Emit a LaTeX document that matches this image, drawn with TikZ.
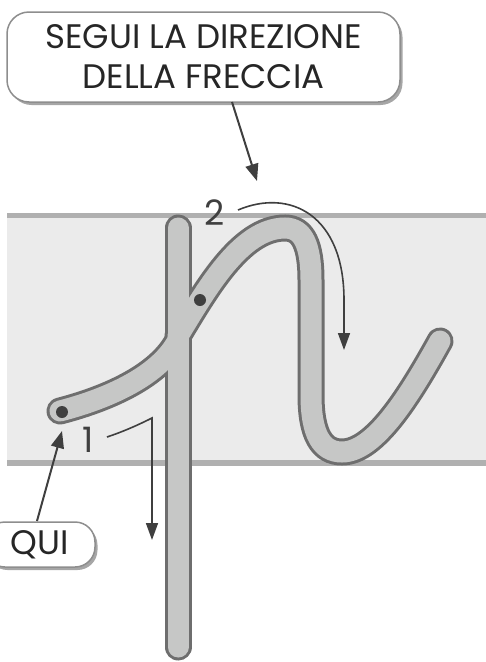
\documentclass[tikz,border=0pt]{standalone}
\usepackage{fontspec}
\setmainfont{Poppins}
\usetikzlibrary{arrows.meta, shadows}
\definecolor{bandfill}{HTML}{EBEBEB}
\definecolor{bandline}{HTML}{B0B0B0}
\definecolor{strokeline}{HTML}{6E6E6E}
\definecolor{strokefill}{HTML}{C6C7C6}
\definecolor{ink}{HTML}{3F3F3F}
\definecolor{boxline}{HTML}{8E8E8E}
\tikzstyle{callout} = [
    rectangle,
    rounded corners=22pt,
    draw=boxline,
    line width=1.5pt,
    fill=white,
    drop shadow={shadow xshift=2.5pt, shadow yshift=-3pt, opacity=.35, fill=black},
    align=center,
    text=black!85,
    font=\fontsize{34}{40}\selectfont
]
\tikzstyle{number} = [font=\fontsize{35}{35}\selectfont, text=ink, inner sep=0pt]
\tikzstyle{startdot} = [circle, fill=ink, minimum size=12pt, inner sep=0pt]
\tikzstyle{outline} = [draw=strokeline, line width=27pt, line cap=round]
\tikzstyle{inside} = [draw=strokefill, line width=21pt, line cap=round]
\tikzstyle{arrow} = [ink, line width=1.6pt, -{Triangle[length=17pt,width=12pt]}]
\tikzstyle{pointer} = [ink, line width=2pt, -{Triangle[length=17pt,width=13pt]}]
% letter strokes
\def\stem{(178,228) -- (178,647)}
\def\strokeone{(60,411) .. controls (110,398) and (160,375) .. (178,340)}
\def\stroketwo{(178,336) .. controls (205,292) and (240,228) .. (285,228)
    .. controls (303,228) and (311,245) .. (311,280) -- (311,395)
    .. controls (311,435) and (322,452) .. (342,452)
    .. controls (375,452) and (410,395) .. (440,341)}
\begin{document}
\begin{tikzpicture}[x=1pt, y=-1pt]
\useasboundingbox (0,0) rectangle (486,662);

% band
\fill[bandfill] (7,215) rectangle (486,463);
\fill[bandline] (7,213) rectangle (486,218);
\fill[bandline] (7,460) rectangle (486,466);

% letter
\draw[outline] \stem;
\draw[outline] \strokeone;
\draw[outline] \stroketwo;
\draw[inside] \stem;
\draw[inside] \strokeone;
\draw[inside] \stroketwo;

\node (dotone) [startdot] at (62,412) {};
\node (dottwo) [startdot] at (200,300) {};

% callouts
\node (hint) [callout, minimum width=393pt, minimum height=90pt] at (203.5,57)
{SEGUI LA DIREZIONE\\DELLA FRECCIA};
\node (here) [callout, minimum width=110pt, minimum height=45pt, rounded corners=20pt] at (40,544.5)
{QUI};

\coordinate (hintfoot) at (232,102);
\coordinate (hinttip) at (257,181);
\draw [pointer] (hintfoot) -- (hinttip);

\coordinate (herefoot) at (37,521);
\coordinate (heretip) at (62,431);
\draw [pointer] (herefoot) -- (heretip);

% stroke order
\node (numone) [number] at (88,440) {1};
\node (numtwo) [number] at (215,213) {2};

\coordinate (startone) at (107,437);
\coordinate (bendone) at (152,418);
\coordinate (tipone) at (152,540);
\draw [arrow] (startone) .. controls (125,431) and (140,424) .. (bendone) -- (tipone);

\coordinate (starttwo) at (238,210);
\coordinate (tiptwo) at (344,350);
\draw [arrow] (starttwo) .. controls (290,188) and (344,215) .. (344,300) -- (tiptwo);

\end{tikzpicture}
\end{document}
